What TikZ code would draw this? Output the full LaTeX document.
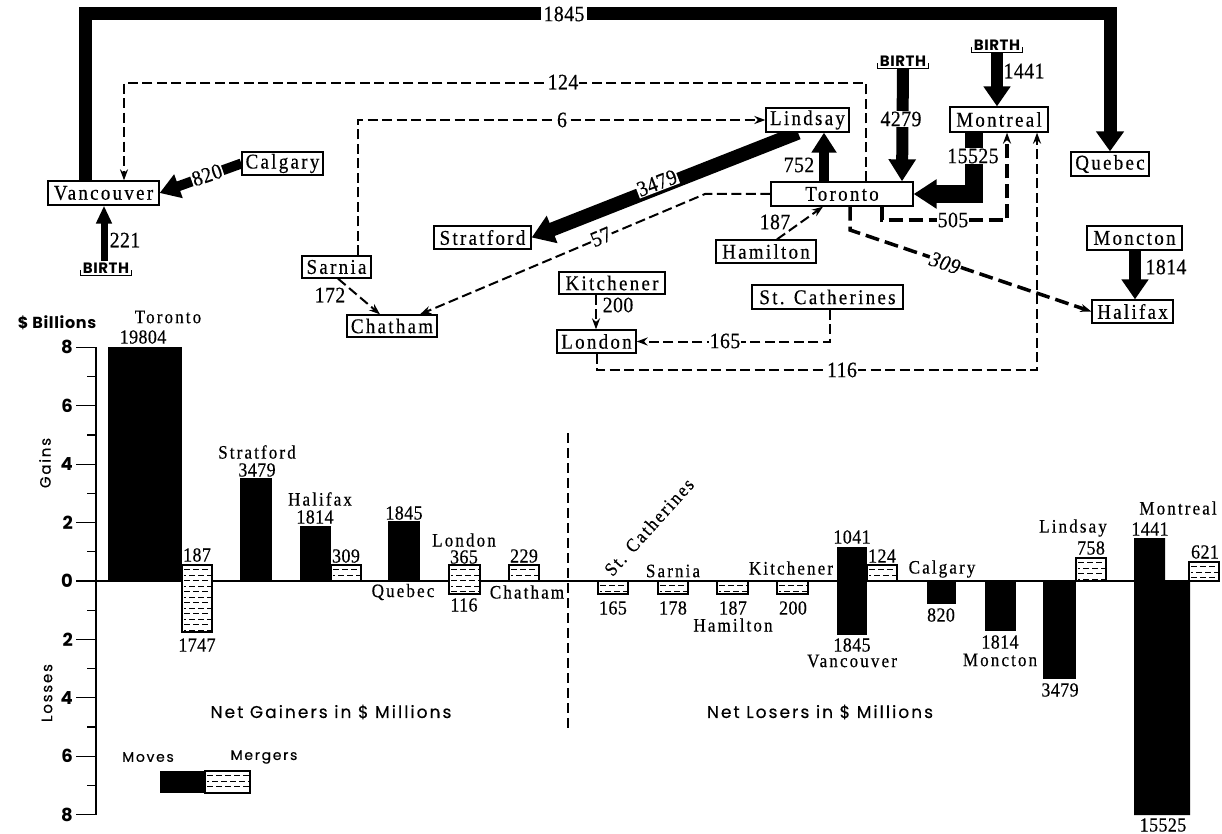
\documentclass[tikz,border=0pt]{standalone}
\usepackage{fontspec}
\setmainfont{Liberation Serif}
\newfontfamily\spc{Liberation Serif}[LetterSpace=11,FakeStretch=0.9,FakeBold=0.4]
\newfontfamily\spn{Liberation Serif}[LetterSpace=2,FakeStretch=0.9,FakeBold=0.4]
\newfontfamily\gs{Poppins}[LetterSpace=12,FakeBold=0.4]
\newfontfamily\gsb{Poppins}[LetterSpace=4]
\usetikzlibrary{arrows.meta,calc}
\pgfdeclarelayer{bg}
\pgfsetlayers{bg,main}
\tikzset{
 city/.style={draw, line width=1.3pt, fill=white, inner sep=0pt, font=\fontsize{21}{22}\selectfont\spc},
 num/.style={inner sep=1pt, font=\fontsize{22}{23}\selectfont\spn},
 numw/.style={num, fill=white},
 cname/.style={inner sep=0pt, font=\fontsize{19}{20}\selectfont\spc},
 cnum/.style={inner sep=0pt, font=\fontsize{20}{21}\selectfont\spn},
 sanslbl/.style={inner sep=0pt, font=\fontsize{17}{18}\selectfont\gs},
 ticklbl/.style={inner sep=0pt, anchor=east, font=\fontsize{18}{19}\selectfont\gsb\bfseries},
 birth/.style={inner sep=2pt, font=\fontsize{15}{16}\selectfont\gsb\bfseries},
 dsh/.style={line width=2pt, dash pattern=on 10pt off 4.5pt},
 dshk/.style={line width=3.5pt, dash pattern=on 14pt off 6pt},
 tip/.style={-{Stealth[length=11pt,width=8pt]}},
}
\newcommand\bracketunder[1]{\draw[line width=1.3pt] ([yshift=5pt]#1.south west) -- (#1.south west) -- (#1.south east) -- ([yshift=5pt]#1.south east);}
\newcommand\mbar[4]{%
 \fill[white] (#1,#2) rectangle (#3,#4);
 \begin{scope}
  \clip (#1,#2) rectangle (#3,#4);
  \pgfmathtruncatemacro\nn{(#4-#2-6)/5.5}
  \foreach \i in {0,...,\nn}{
   \pgfmathsetmacro\ph{mod(\i,2)*4}
   \draw[line width=0.9pt, dash pattern=on 6pt off 3pt, dash phase=\ph pt] ({#1+2},{#2+4.5+5.5*\i}) -- ({#3-1},{#2+4.5+5.5*\i});
  }
 \end{scope}
 \draw[line width=1.3pt] (#1,#2) rectangle (#3,#4);}
\begin{document}
\begin{tikzpicture}[x=1pt,y=-1pt]
\useasboundingbox (0,0) rectangle (1222,834);
% ---------------- map boxes
\node[city, minimum width=111pt, minimum height=24pt] (van) at (103.5,193) {Vancouver};
\node[city, minimum width=81pt, minimum height=23pt] (cal) at (282.5,163.5) {Calgary};
\node[city, minimum width=83pt, minimum height=24pt] (lin) at (807.5,120) {Lindsay};
\node[city, minimum width=98pt, minimum height=25pt] (mon) at (999,119.5) {Montreal};
\node[city, minimum width=78pt, minimum height=24pt] (que) at (1110,164) {Quebec};
\node[city, minimum width=142pt, minimum height=24pt] (tor) at (842,194) {Toronto};
\node[city, minimum width=97pt, minimum height=23pt] (str) at (482.5,237.5) {Stratford};
\node[city, minimum width=69pt, minimum height=22pt] (sar) at (336.5,267) {Sarnia};
\node[city, minimum width=90pt, minimum height=22pt] (cha) at (392,326) {Chatham};
\node[city, minimum width=106pt, minimum height=22pt] (kit) at (612,283) {Kitchener};
\node[city, minimum width=79pt, minimum height=23pt] (lon) at (596.5,341.5) {London};
\node[city, minimum width=151pt, minimum height=24pt] (stc) at (827.5,297) {St. Catherines};
\node[city, minimum width=100pt, minimum height=23pt] (ham) at (766,251.5) {Hamilton};
\node[city, minimum width=95pt, minimum height=24pt] (mcn) at (1134.5,238) {Moncton};
\node[city, minimum width=81pt, minimum height=23pt] (hal) at (1132.5,311.5) {Halifax};
\node[birth] (bv) at (106,268) {BIRTH};
\node[birth] (bt) at (903,61) {BIRTH};
\node[birth] (bm) at (997,45) {BIRTH};
\bracketunder{bv}
\bracketunder{bt}
\bracketunder{bm}
% ---------------- connectors
\begin{pgfonlayer}{bg}
\draw[line width=13pt, -{Triangle[length=20pt,width=27pt]}] (van.north -| 85,0) -- (85,14) -- (1110,14) -- (que.north);
\draw[dsh, tip] (tor.north -| 866,0) |- (124,83) -- (van.north -| 124,0);
\draw[dsh, tip] (sar.north -| 358,0) |- (lin.west);
\draw[line width=14pt, -{Triangle[length=22pt,width=28pt]}] (lin.south -| 798,0) -- (str.east);
\draw[line width=10pt, -{Triangle[length=20pt,width=24pt]}] (tor.north -| 824,0) -- (lin.south -| 824,0);
\draw[line width=12pt, -{Triangle[length=22pt,width=26pt]}] (bt.south) -- (tor.north -| 902,0);
\draw[line width=12pt, -{Triangle[length=20pt,width=26pt]}] (bm.south) -- (mon.north -| 997,0);
\draw[line width=18pt, line join=miter, -{Triangle[length=23pt,width=28pt]}] (mon.south -| 974,0) |- (tor.east);
\draw[dshk, tip] (tor.south -| 882,0) |- (1007,220) -- (mon.south -| 1007,0);
\draw[dsh, tip] (lon.south -| 597,0) |- (1037,370) -- (mon.south -| 1037,0);
\draw[dsh, tip] (tor.west) -- (705,194) -- (cha.north -| 420,0);
\draw[dsh, tip] (sar.south -| 338,0) -- (cha.north -| 380,0);
\draw[dsh, tip] (kit.south -| 596,0) -- (lon.north -| 596,0);
\draw[dsh, tip] (stc.south -| 830,0) |- (lon.east);
\draw[dsh, tip] (ham.north -| 777,0) -- (tor.south -| 823,0);
\draw[dshk, tip] (tor.south -| 850,0) -- (850,230) -- (hal.west);
\draw[line width=12pt, -{Triangle[length=20pt,width=26pt]}] (mcn.south -| 1135,0) -- (hal.north -| 1135,0);
\draw[line width=10pt, -{Triangle[length=20pt,width=24pt]}] (cal.west) -- (van.east);
\draw[line width=7pt, -{Triangle[length=18pt,width=15pt]}] (bv.north -| 104,0) -- (van.south -| 104,0);
\end{pgfonlayer}
% ---------------- connector labels
\node[numw, inner xsep=3pt] (n1845) at (564,14) {1845};
\node[numw] (n124) at (563,82) {124};
\node[numw] (n6) at (562,120) {6};
\node[numw, rotate=19] (n820) at (207,175) {820};
\node[num] (n221) at (125,240) {221};
\node[numw, rotate=21] (n3479) at (657,183) {3479};
\node[numw, rotate=23] (n57) at (601,237) {57};
\node[num] (n172) at (330,295) {172};
\node[num] (n200) at (618,305) {200};
\node[numw] (n165) at (725,341) {165};
\node[numw] (n116) at (842,370) {116};
\node[num] (n752) at (799,165) {752};
\node[numw] (n4279) at (901,119) {4279};
\node[num] (n1441) at (1024,71) {1441};
\node[numw] (n15525) at (973,156) {15525};
\node[numw] (n505) at (953,220) {505};
\node[num] (n187) at (775,222) {187};
\node[numw, rotate=-19, font=\fontsize{22}{23}\selectfont\spn\itshape] (n309) at (945,263) {309};
\node[num] (n1814) at (1166,267) {1814};
% ---------------- chart axes
\draw[line width=1.3pt] (96,347) -- (96,815);
\draw[line width=1.3pt] (96,581) -- (1220,581);
\foreach \v in {0,2,4,6,8}{
 \draw[line width=1.3pt] (76,{581-29.2*\v}) -- (96,{581-29.2*\v});
 \draw[line width=1.3pt] (76,{581+29.2*\v}) -- (96,{581+29.2*\v});
}
\foreach \v in {2,4,6,8}{
 \node[ticklbl] (tg\v) at (73,{581-29.2*\v}) {\v};
 \node[ticklbl] (tl\v) at (73,{581+29.2*\v}) {\v};
}
\node[ticklbl] (tzero) at (73,581) {0};
\foreach \v in {1,3,5,7}{
 \draw[line width=1.3pt] (87,{581-29.2*\v}) -- (96,{581-29.2*\v});
 \draw[line width=1.3pt] (87,{581+29.2*\v}) -- (96,{581+29.2*\v});
}
\node[inner sep=0pt, font=\fontsize{16}{17}\selectfont\gsb\bfseries] (bil) at (57,323) {\$ Billions};
\node[sanslbl, font=\fontsize{15}{16}\selectfont\gs, rotate=90] (gains) at (45,463) {Gains};
\node[sanslbl, font=\fontsize{15}{16}\selectfont\gs, rotate=90] (losses) at (47,693) {Losses};
\node[sanslbl] (ng) at (331,712) {Net Gainers in \$ Millions};
\node[sanslbl] (nl) at (820,712) {Net Losers in \$ Millions};
\node[sanslbl, font=\fontsize{14}{15}\selectfont\gs] (mv) at (148,757) {Moves};
\node[sanslbl, font=\fontsize{14}{15}\selectfont\gs] (mg) at (264,757) {Mergers};
\draw[line width=1.5pt, dash pattern=on 10pt off 5pt] (568,433) -- (568,728);
% ---------------- bars
\fill (108,347) rectangle (182,581);
\fill (240,478) rectangle (272,581);
\fill (300,526) rectangle (331,581);
\fill (388,521) rectangle (420,581);
\fill (837,547) rectangle (867,635);
\fill (927,581) rectangle (956,604);
\fill (985,581) rectangle (1016,631);
\fill (1043,581) rectangle (1076,679);
\fill (1134,538) -- (1165,538) -- (1165,581) -- (1190,581) -- (1190,815) -- (1134,815) -- cycle;
\fill (160,771) rectangle (205,793);
\mbar{182}{565}{212}{632}
\mbar{331}{565}{361}{581}
\mbar{449}{565}{480}{594}
\mbar{509}{565}{539}{581}
\mbar{598}{581}{628}{594}
\mbar{658}{581}{688}{594}
\mbar{717}{581}{748}{594}
\mbar{777}{581}{808}{594}
\mbar{867}{565}{897}{581}
\mbar{1076}{558}{1106}{581}
\mbar{1189}{562}{1219}{581}
\mbar{205}{771}{250}{793}
% ---------------- chart labels
\node[cname] (cTor) at (168,317) {Toronto};
\node[cnum] (v19804) at (143,337) {19804};
\node[cnum] (v187a) at (197,555) {187};
\node[cnum] (v1747) at (197,645) {1747};
\node[cname] (cStr) at (257,452) {Stratford};
\node[cnum] (v3479a) at (257,470) {3479};
\node[cname] (cHal) at (320,499) {Halifax};
\node[cnum] (v1814a) at (315,517) {1814};
\node[cnum] (v309) at (346,556) {309};
\node[cnum] (v1845a) at (404,513) {1845};
\node[cname] (cQue) at (403,592) {Quebec};
\node[cname] (cLon) at (464,540) {London};
\node[cnum] (v365) at (464,557) {365};
\node[cnum] (v116) at (464,605) {116};
\node[cnum] (v229) at (524,556) {229};
\node[cname] (cCha) at (527,592) {Chatham};
\node[cname, rotate=48] (cStc) at (649,527) {St. Catherines};
\node[cnum] (v165) at (613,608) {165};
\node[cname] (cSar) at (673,571) {Sarnia};
\node[cnum] (v178) at (673,608) {178};
\node[cnum] (v187b) at (733,608) {187};
\node[cname] (cHam) at (733,625) {Hamilton};
\node[cname] (cKit) at (791,568) {Kitchener};
\node[cnum] (v200) at (793,608) {200};
\node[cnum] (v1041) at (852,537) {1041};
\node[cnum] (v1845b) at (852,645) {1845};
\node[cname] (cVan) at (852,661) {Vancouver};
\node[cnum] (v124) at (882,556) {124};
\node[cname] (cCal) at (942,569) {Calgary};
\node[cnum] (v820) at (941,615) {820};
\node[cnum] (v1814b) at (1000,642) {1814};
\node[cname] (cMcn) at (1000,660) {Moncton};
\node[cname] (cLin) at (1073,528) {Lindsay};
\node[cnum] (v758) at (1091,548) {758};
\node[cnum] (v3479b) at (1060,690) {3479};
\node[cname] (cMon) at (1178,508) {Montreal};
\node[cnum] (v1441) at (1150,529) {1441};
\node[cnum] (v15525) at (1163,825) {15525};
\node[cnum] (v621) at (1205,552) {621};
\end{tikzpicture}
\end{document}
